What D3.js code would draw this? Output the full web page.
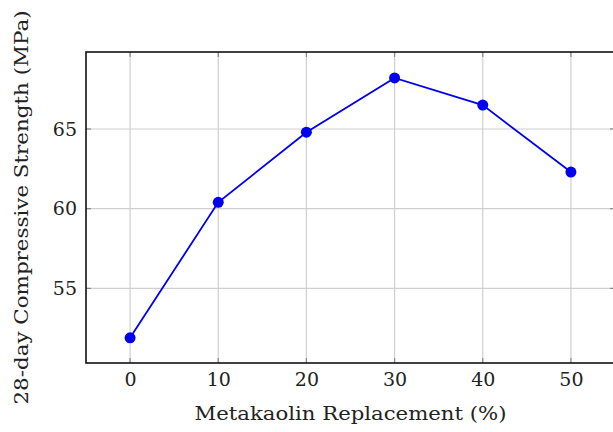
<!DOCTYPE html>
<html>
<head>
<meta charset="utf-8">
<script src="https://cdn.jsdelivr.net/npm/d3@7"></script>
<style>
  body { margin: 0; background: #fff; }
  svg { display: block; }
  text { font-family: "DejaVu Serif", "Liberation Serif", serif; fill: #222; }
</style>
</head>
<body>
<div id="chart"></div>
<script>
// 28-day strength vs metakaolin replacement
var replacement = [0, 10, 20, 30, 40, 50];
var strength = [51.9, 60.4, 64.8, 68.2, 66.5, 62.3];
var xTicks = [0, 10, 20, 30, 40, 50];
var yTicks = [55, 60, 65];

var margin = {top: 52, right: -2, bottom: 69, left: 86},
    totalWidth = 613,
    totalHeight = 432,
    width = totalWidth - margin.left - margin.right,
    height = totalHeight - margin.top - margin.bottom;

var x = d3.scaleLinear().domain([-5, 55]).range([0, width]);
var y = d3.scaleLinear().domain([50.32, 69.83]).range([height, 0]);

var svg = d3.select("#chart").append("svg")
    .attr("width", totalWidth)
    .attr("height", totalHeight);

var g = svg.append("g")
    .attr("transform", "translate(" + margin.left + "," + margin.top + ")");

// grid
g.append("g").selectAll("line")
  .data(xTicks)
  .enter().append("line")
    .attr("x1", function(d) { return x(d); })
    .attr("x2", function(d) { return x(d); })
    .attr("y1", 0).attr("y2", height)
    .attr("stroke", "#cfcfcf").attr("stroke-width", 1.2);

g.append("g").selectAll("line")
  .data(yTicks)
  .enter().append("line")
    .attr("y1", function(d) { return y(d); })
    .attr("y2", function(d) { return y(d); })
    .attr("x1", 0).attr("x2", width)
    .attr("stroke", "#cfcfcf").attr("stroke-width", 1.2);

// inner tick marks, all four sides
var tk = 5;
xTicks.forEach(function(d) {
  g.append("line").attr("x1", x(d)).attr("x2", x(d)).attr("y1", height).attr("y2", height - tk)
    .attr("stroke", "#888").attr("stroke-width", 1.2);
  g.append("line").attr("x1", x(d)).attr("x2", x(d)).attr("y1", 0).attr("y2", tk)
    .attr("stroke", "#888").attr("stroke-width", 1.2);
});
yTicks.forEach(function(d) {
  g.append("line").attr("y1", y(d)).attr("y2", y(d)).attr("x1", 0).attr("x2", tk)
    .attr("stroke", "#888").attr("stroke-width", 1.2);
  g.append("line").attr("y1", y(d)).attr("y2", y(d)).attr("x1", width).attr("x2", width - tk)
    .attr("stroke", "#888").attr("stroke-width", 1.2);
});

// tick labels via d3 axes
var xAxis = g.append("g")
  .attr("transform", "translate(0," + height + ")")
  .call(d3.axisBottom(x).tickValues(xTicks).tickSize(0).tickPadding(10));
var yAxis = g.append("g")
  .call(d3.axisLeft(y).tickValues(yTicks).tickSize(0).tickPadding(9));
[xAxis, yAxis].forEach(function(a) {
  a.select(".domain").remove();
  a.selectAll("text").attr("font-size", 19).attr("fill", "#222")
    .style("font-family", "'DejaVu Serif', 'Liberation Serif', serif");
});

// frame
g.append("rect")
  .attr("x", 0).attr("y", 0)
  .attr("width", width).attr("height", height)
  .attr("fill", "none").attr("stroke", "#111").attr("stroke-width", 1.6);

// data line
var line = d3.line()
  .x(function(d, i) { return x(replacement[i]); })
  .y(function(d) { return y(d); });

g.append("path")
  .datum(strength)
  .attr("fill", "none")
  .attr("stroke", "#0000ee")
  .attr("stroke-width", 1.8)
  .attr("d", line);

g.selectAll(".pt")
  .data(strength)
  .enter().append("circle")
    .attr("class", "pt")
    .attr("cx", function(d, i) { return x(replacement[i]); })
    .attr("cy", function(d) { return y(d); })
    .attr("r", 5.5)
    .attr("fill", "#0000ee");

// titles
svg.append("text")
  .attr("x", margin.left + x(25))
  .attr("y", 420)
  .attr("text-anchor", "middle")
  .attr("font-size", 19)
  .attr("textLength", 312)
  .attr("lengthAdjust", "spacingAndGlyphs")
  .text("Metakaolin Replacement (%)");

svg.append("text")
  .attr("transform", "translate(28," + (margin.top + height / 2) + ") rotate(-90)")
  .attr("text-anchor", "middle")
  .attr("font-size", 19)
  .attr("textLength", 394)
  .attr("lengthAdjust", "spacingAndGlyphs")
  .text("28-day Compressive Strength (MPa)");
</script>
</body>
</html>
